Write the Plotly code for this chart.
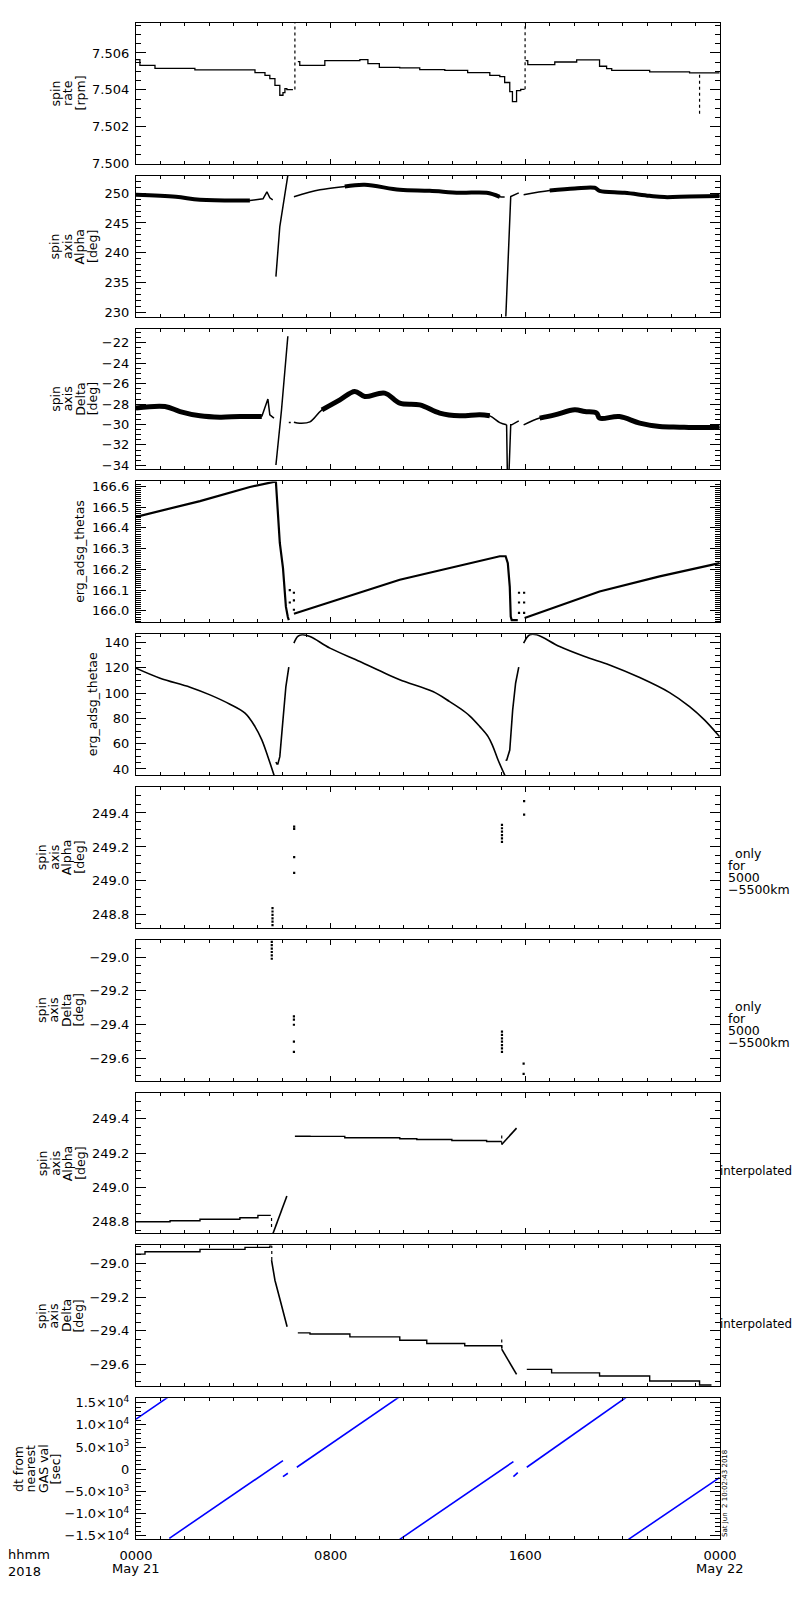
import plotly.graph_objects as go
from plotly.subplots import make_subplots

FONT = "DejaVu Sans"

# time axis: hours after 2018-05-21 00:00

# --- spin rate [rpm]
rate_t_a = [0, 0.16, 0.78, 2.42, 4.89, 5.30, 5.50, 5.71, 5.91, 6.04, 6.12, 6.20, 6.45]
rate_v_a = [7.50564, 7.50533, 7.50517, 7.50508, 7.50494, 7.50479, 7.50461, 7.50425,
            7.50371, 7.50385, 7.50407, 7.50402, 7.50402]
rate_t_b = [6.65, 6.73, 7.76, 9.20, 9.53, 10.0, 10.84, 11.66, 12.69, 13.63, 14.54, 14.95,
            15.15, 15.36, 15.47, 15.64, 15.81, 15.97]
rate_v_b = [7.50553, 7.50533, 7.50558, 7.50564, 7.50542, 7.50522, 7.50519, 7.50510,
            7.50506, 7.50494, 7.50479, 7.50472, 7.50440, 7.50391, 7.50337, 7.50396,
            7.50403, 7.50403]
rate_t_c = [16.01, 16.10, 17.21, 18.11, 19.05, 19.34, 19.55, 21.11, 22.75, 23.98]
rate_v_c = [7.50558, 7.50537, 7.50551, 7.50562, 7.50528, 7.50515, 7.50506, 7.50497,
            7.50492, 7.50492]
rate_spike_t = [6.53, 15.99, 23.16]
rate_spike_lo = [7.50402, 7.50403, 7.50271]
rate_spike_hi = [7.50780, 7.50780, 7.50490]

# --- spin axis Alpha [deg]
alp_t_a = [0, 1.64, 2.63, 4.68]
alp_v_a = [249.71, 249.38, 248.88, 248.76]
alp_t_peak = [4.68, 5.22, 5.38, 5.50, 5.62]
alp_v_peak = [248.76, 249.04, 250.22, 249.21, 248.88]
alp_t_jump = [5.75, 5.91, 6.26]
alp_v_jump = [236.0, 244.4, 253.5]
alp_t_b = [6.49, 7.56, 8.58, 9.40, 10.84, 12.07, 13.30, 14.41, 14.95, 15.15]
alp_v_b = [249.38, 250.55, 251.10, 251.39, 250.55, 250.38, 250.05, 250.05, 249.38, 249.33]
alp_t_drop = [15.19, 15.33, 15.40, 15.73]
alp_v_drop = [228.5, 243.3, 249.43, 250.05]
alp_t_c = [15.93, 17.00, 18.03, 18.85, 19.05, 20.08, 21.10, 21.72, 22.75, 23.98]
alp_v_c = [249.71, 250.44, 250.77, 250.89, 250.39, 250.05, 249.55, 249.33, 249.43, 249.50]

# --- spin axis Delta [deg]
dec_t_a = [0, 1.19, 1.81, 2.63, 3.45, 4.27, 5.17]
dec_v_a = [-28.39, -28.23, -28.73, -29.15, -29.28, -29.22, -29.22]
dec_t_peak = [5.17, 5.42, 5.50, 5.67]
dec_v_peak = [-29.22, -27.51, -29.05, -29.37]
dec_t_jump = [5.75, 5.98, 6.24]
dec_v_jump = [-33.97, -28.56, -21.35]
dec_t_small = [6.28, 6.36]
dec_v_small = [-29.81, -29.81]
dec_t_b = [6.49, 6.73, 7.15, 7.64, 8.38, 8.99, 9.40, 10.22, 10.84, 11.66, 12.48, 13.30,
           14.13, 14.54, 14.95, 15.23]
dec_v_b = [-29.77, -29.87, -29.74, -28.56, -27.58, -26.76, -27.25, -26.92, -27.90, -28.07,
           -28.88, -29.15, -29.05, -29.15, -29.81, -30.03]
dec_t_drop = [15.23, 15.26, 15.33, 15.40, 15.44, 15.73]
dec_v_drop = [-30.03, -34.6, -34.6, -30.03, -30.03, -29.64]
dec_t_c = [15.93, 16.59, 17.21, 18.03, 18.44, 18.93, 19.05, 19.87, 20.70, 21.52, 22.34,
           23.16, 23.98]
dec_v_c = [-30.03, -29.37, -29.05, -28.56, -28.73, -28.88, -29.37, -29.22, -29.87, -30.20,
           -30.26, -30.30, -30.26]

# --- erg_adsg_thetas
ths_t_a = [0, 2.63, 4.68, 5.71, 5.75, 5.91, 6.04, 6.16, 6.24, 6.28]
ths_v_a = [166.453, 166.529, 166.597, 166.623, 166.620, 166.327, 166.207, 166.020,
           165.970, 165.955]
ths_t_b = [6.49, 10.84, 14.95, 15.19, 15.28, 15.36, 15.40, 15.44, 15.69]
ths_v_b = [165.986, 166.150, 166.263, 166.263, 166.230, 166.117, 165.972, 165.955, 165.955]
ths_t_c = [15.97, 19.05, 21.52, 23.98]
ths_v_c = [165.965, 166.093, 166.166, 166.230]
ths_dot_t = [6.32, 6.32, 6.49, 6.49, 6.49, 15.74, 15.74, 15.74, 15.95, 15.95, 15.95]
ths_dot_v = [166.100, 166.040, 166.087, 166.050, 166.005, 166.087, 166.040, 165.990,
             166.087, 166.040, 165.990]

# --- erg_adsg_thetae
the_t_a = [0, 0.99, 2.22, 3.04, 3.86, 4.48, 4.89, 5.17, 5.42, 5.69]
the_v_a = [119.7, 111.8, 104.7, 98.6, 91.2, 84.1, 73.5, 63.0, 49.7, 34.0]
the_t_r1 = [5.75, 5.79, 5.83, 5.91, 6.04, 6.16, 6.28]
the_v_r1 = [45.5, 44.0, 44.0, 49.7, 78.8, 105.2, 120.5]
the_t_b = [6.49, 6.65, 6.82, 7.15, 7.97, 9.20, 10.02, 10.84, 12.20, 12.89, 13.30, 13.71,
           14.13, 14.47, 14.67, 14.88, 15.18]
the_v_b = [139.5, 144.8, 146.1, 144.8, 135.6, 125.0, 117.6, 110.5, 101.2, 93.3, 88.1, 82.0,
           73.5, 65.6, 57.7, 47.1, 34.0]
the_t_r2 = [15.20, 15.23, 15.36, 15.48, 15.60, 15.73]
the_v_r2 = [47.5, 46.6, 55.0, 86.7, 107.8, 120.5]
the_t_c = [15.93, 16.18, 16.47, 17.41, 18.44, 19.46, 20.70, 21.93, 22.75, 23.36, 23.98]
the_v_c = [139.5, 146.1, 146.1, 136.8, 128.9, 122.3, 112.3, 100.4, 89.3, 78.8, 65.6]

# --- spin axis Alpha / Delta, only for 5000-5500 km
alp_o_t = [5.61, 5.61, 5.61, 5.61, 5.61, 5.61, 6.50, 6.50, 6.50, 6.50,
           15.04, 15.04, 15.04, 15.04, 15.04, 15.04, 15.95, 15.95]
alp_o_v = [248.84, 248.82, 248.80, 248.78, 248.76, 248.74, 249.32, 249.306, 249.14, 249.047,
           249.33, 249.31, 249.29, 249.27, 249.25, 249.23, 249.47, 249.39]
dec_o_t = [5.58, 5.58, 5.58, 5.58, 5.58, 5.58, 6.49, 6.49, 6.49, 6.49, 6.49,
           15.04, 15.04, 15.04, 15.04, 15.04, 15.04, 15.04, 15.93, 15.93]
dec_o_v = [-28.91, -28.93, -28.95, -28.97, -28.99, -29.01, -29.35, -29.37, -29.40, -29.50,
           -29.56, -29.44, -29.46, -29.48, -29.50, -29.52, -29.54, -29.56, -29.63, -29.69]

# --- spin axis Alpha, interpolated
alp_i_t_a = [0, 1.40, 2.63, 4.27, 5.01, 5.54]
alp_i_v_a = [248.800, 248.806, 248.814, 248.823, 248.837, 248.837]
alp_i_t_r1 = [5.60, 6.20]
alp_i_v_r1 = [248.72, 248.95]
alp_i_t_b = [6.53, 7.15, 8.58, 10.84, 11.54, 12.98, 14.41, 15.03]
alp_i_v_b = [249.298, 249.297, 249.289, 249.283, 249.279, 249.273, 249.267, 249.267]
alp_i_t_r2 = [15.03, 15.64]
alp_i_v_r2 = [249.250, 249.345]
alp_i_gap_t = [5.57, 15.03]
alp_i_gap_lo = [248.770, 249.250]
alp_i_gap_hi = [248.837, 249.310]

# --- spin axis Delta, interpolated
dec_i_t_a = [0, 0.37, 2.63, 4.48, 5.50, 5.57]
dec_i_v_a = [-28.945, -28.931, -28.917, -28.905, -28.895, -28.895]
dec_i_t_r1 = [5.57, 5.71, 5.91, 6.21]
dec_i_v_r1 = [-28.98, -29.10, -29.21, -29.377]
dec_i_t_b = [6.65, 7.15, 8.79, 10.84, 11.95, 13.51, 15.03]
dec_i_v_b = [-29.413, -29.420, -29.437, -29.457, -29.476, -29.490, -29.506]
dec_i_t_r2 = [15.03, 15.64]
dec_i_v_r2 = [-29.51, -29.66]
dec_i_t_c = [16.06, 17.08, 19.05, 21.11, 23.16, 23.65]
dec_i_v_c = [-29.630, -29.651, -29.669, -29.699, -29.723, -29.723]
dec_i_gap_t = [5.58, 15.03]
dec_i_gap_lo = [-28.98, -29.506]
dec_i_gap_hi = [-28.895, -29.440]

# --- dt from nearest GAS val [sec]
dt_segments_t = [[0, 1.33], [1.37, 6.04], [6.04, 6.24], [6.61, 10.82],
                 [10.84, 15.51], [15.51, 15.69], [16.06, 20.17], [20.24, 23.98]]
dt_segments_v = [[11280, 16300], [-15570, 1940], [-1670, -900], [450, 16300],
                 [-15800, 1715], [-1670, -765], [450, 16300], [-15800, -1890]]

y_ranges = [[7.5, 7.50762], [229.3, 252.9], [-34.4, -20.6], [165.945, 166.624],
            [35.2, 146.6], [248.724, 249.553], [-29.73, -28.898], [248.732, 249.552],
            [-29.73, -28.893], [-15725, 16015]]
y_dtick = [0.002, 5, 2, 0.1, 20, 0.2, 0.2, 0.2, 0.2, 5000]
y_minor = [0.0005, 1, 0.5, 0.01, 5, 0.05, 0.05, 0.05, 0.05, 1000]
y_format = [".3f", "d", "d", ".1f", "d", ".1f", ".1f", ".1f", ".1f", "d"]
dt_tickvals = [-15000, -10000, -5000, 0, 5000, 10000, 15000]
dt_ticktext = ["\u22121.5\u00d710<sup>4</sup>", "\u22121.0\u00d710<sup>4</sup>",
               "\u22125.0\u00d710<sup>3</sup>", "0", "5.0\u00d710<sup>3</sup>",
               "1.0\u00d710<sup>4</sup>", "1.5\u00d710<sup>4</sup>"]

x_tickvals = [0, 8, 16, 24]
x_ticktext = ["0000", "0800", "1600", "0000"]

y_labels = [["spin", "rate", "[rpm]"], ["spin", "axis", "Alpha", "[deg]"],
            ["spin", "axis", "Delta", "[deg]"], ["erg_adsg_thetas"], ["erg_adsg_thetae"],
            ["spin", "axis", "Alpha", "[deg]"], ["spin", "axis", "Delta", "[deg]"],
            ["spin", "axis", "Alpha", "[deg]"], ["spin", "axis", "Delta", "[deg]"],
            ["dt from", "nearest", "GAS val", "[sec]"]]
y_label_x = [67.5, 73, 73.5, 80, 92.5, 60.5, 59.5, 62, 60, 37]

fig = make_subplots(rows=10, cols=1, vertical_spacing=0.0079)


def line(row, t, v, width=1.3, color="black", dash="solid", shape="linear"):
    fig.add_trace(go.Scatter(x=t, y=v, mode="lines",
                             line=dict(color=color, width=width, dash=dash, shape=shape),
                             showlegend=False, hoverinfo="skip"), row=row, col=1)


def dots(row, t, v, size=2.2):
    fig.add_trace(go.Scatter(x=t, y=v, mode="markers",
                             marker=dict(color="black", size=size, symbol="square"),
                             showlegend=False, hoverinfo="skip"), row=row, col=1)


def vlines(row, ts, lo, hi):
    for t, a, b in zip(ts, lo, hi):
        line(row, [t, t], [a, b], width=1.2, dash="dot")


# row 1
for t, v in [(rate_t_a, rate_v_a), (rate_t_b, rate_v_b), (rate_t_c, rate_v_c)]:
    line(1, t, v, width=1.3, shape="hv")
vlines(1, rate_spike_t, rate_spike_lo, rate_spike_hi)

# row 2
for t, v in [(alp_t_a, alp_v_a), (alp_t_b[2:9], alp_v_b[2:9]), (alp_t_c[1:], alp_v_c[1:])]:
    line(2, t, v, width=4, shape="spline")
for t, v in [(alp_t_a, alp_v_a), (alp_t_b, alp_v_b), (alp_t_c, alp_v_c)]:
    line(2, t, v, width=1.5, shape="spline")
for t, v in [(alp_t_peak, alp_v_peak), (alp_t_jump, alp_v_jump), (alp_t_drop, alp_v_drop)]:
    line(2, t, v, width=1.5)

# row 3
for t, v in [(dec_t_a, dec_v_a), (dec_t_b[3:14], dec_v_b[3:14]), (dec_t_c[1:], dec_v_c[1:])]:
    line(3, t, v, width=5, shape="spline")
for t, v in [(dec_t_a, dec_v_a), (dec_t_b, dec_v_b), (dec_t_c, dec_v_c)]:
    line(3, t, v, width=1.5, shape="spline")
for t, v in [(dec_t_peak, dec_v_peak), (dec_t_jump, dec_v_jump), (dec_t_small, dec_v_small),
             (dec_t_drop, dec_v_drop)]:
    line(3, t, v, width=1.5)

# row 4
for t, v in [(ths_t_a, ths_v_a), (ths_t_b, ths_v_b), (ths_t_c, ths_v_c)]:
    line(4, t, v, width=2.2)
dots(4, ths_dot_t, ths_dot_v)

# row 5
for t, v in [(the_t_a, the_v_a), (the_t_b, the_v_b), (the_t_c, the_v_c)]:
    line(5, t, v, width=1.6, shape="spline")
for t, v in [(the_t_r1, the_v_r1), (the_t_r2, the_v_r2)]:
    line(5, t, v, width=1.6)

# rows 6, 7
dots(6, alp_o_t, alp_o_v)
dots(7, dec_o_t, dec_o_v)

# row 8
line(8, alp_i_t_a, alp_i_v_a, width=1.4, shape="hv")
line(8, alp_i_t_b, alp_i_v_b, width=1.4, shape="hv")
line(8, alp_i_t_r1, alp_i_v_r1, width=1.6)
line(8, alp_i_t_r2, alp_i_v_r2, width=1.6)
vlines(8, alp_i_gap_t, alp_i_gap_lo, alp_i_gap_hi)

# row 9
line(9, dec_i_t_a, dec_i_v_a, width=1.4, shape="hv")
line(9, dec_i_t_b, dec_i_v_b, width=1.4, shape="hv")
line(9, dec_i_t_c, dec_i_v_c, width=1.4, shape="hv")
line(9, dec_i_t_r1, dec_i_v_r1, width=1.6)
line(9, dec_i_t_r2, dec_i_v_r2, width=1.6)
vlines(9, dec_i_gap_t, dec_i_gap_lo, dec_i_gap_hi)

# row 10
for t, v in zip(dt_segments_t, dt_segments_v):
    line(10, t, v, width=1.6, color="#0000ff")

axis_common = dict(showline=True, linecolor="black", linewidth=1.2, mirror="ticks",
                   ticks="inside", tickcolor="black", showgrid=False, zeroline=False,
                   tickfont=dict(family=FONT, size=13, color="black"))

for i in range(10):
    row = i + 1
    fig.update_xaxes(axis_common, row=row, col=1, range=[0, 24], tickmode="array",
                     tickvals=x_tickvals, ticktext=x_ticktext, ticklen=5, tickwidth=1,
                     showticklabels=(row == 10), ticklabelstandoff=4,
                     minor=dict(dtick=1, tick0=0, ticks="inside", ticklen=3,
                                tickcolor="black", tickwidth=1))
    ykw = dict(range=y_ranges[i], ticklen=10, tickwidth=1, ticklabelstandoff=3,
               minor=dict(dtick=y_minor[i], tick0=0, ticks="inside", ticklen=5,
                          tickcolor="black", tickwidth=1))
    if row == 10:
        ykw.update(tickmode="array", tickvals=dt_tickvals, ticktext=dt_ticktext)
    else:
        ykw.update(dtick=y_dtick[i], tick0=0, tickformat=y_format[i])
    fig.update_yaxes(axis_common, row=row, col=1, **ykw)

# labels (positions in page pixels; page body has an 8px margin)
PX0, PW, H = 136.0, 584.5, 1516.0


def px2paper(px):
    return (px - PX0) / PW


for i, lines in enumerate(y_labels):
    yref = "y domain" if i == 0 else f"y{i + 1} domain"
    n = len(lines)
    for k, s in enumerate(lines):
        cx = y_label_x[i] + (k - (n - 1) / 2) * 12.5
        fig.add_annotation(text=s, x=px2paper(cx), xref="paper", y=0.5, yref=yref,
                           textangle=-90, showarrow=False, xanchor="center",
                           yanchor="middle", font=dict(family=FONT, size=12.5, color="black"))

only_lines = ["only", "for", "5000", "\u22125500km"]
only_shift = [4, -8, -20, -32]
only_x = [734, 727, 727, 727]
for row in (6, 7):
    for s, dy, xx in zip(only_lines, only_shift, only_x):
        fig.add_annotation(text=s, x=px2paper(xx), xref="paper", y=0.5,
                           yref=f"y{row} domain", yshift=dy, showarrow=False,
                           xanchor="left", yanchor="middle",
                           font=dict(family=FONT, size=12.5, color="black"))
for row in (8, 9):
    fig.add_annotation(text="interpolated", x=px2paper(719), xref="paper", y=0.5,
                       yref=f"y{row} domain", yshift=-8, showarrow=False,
                       xanchor="left", yanchor="middle", borderpad=0,
                       font=dict(family=FONT, size=11.8, color="black"))

fig.add_annotation(text="Sat Jun\u00a0 2 10:02:43 2018", x=px2paper(725), xref="paper",
                   y=0, yref="paper", textangle=-90, showarrow=False, xanchor="center",
                   yanchor="bottom", font=dict(family=FONT, size=7, color="black"))

fig.add_annotation(text="hhmm<br>2018", x=px2paper(6), xref="paper", y=(1539 - 1545) / H,
                   yref="paper", showarrow=False, xanchor="left", yanchor="top",
                   align="left", font=dict(family=FONT, size=13, color="black"))
for txt, xx in [("May 21", 136), ("May 22", 720)]:
    fig.add_annotation(text=txt, x=px2paper(xx), xref="paper", y=(1539 - 1559) / H,
                       yref="paper", showarrow=False, xanchor="center", yanchor="top",
                       font=dict(family=FONT, size=13, color="black"))

# page body adds 8px around the figure; keep the page inside 800x1600 (no scrollbars)
fig.update_layout(width=792, height=1578, margin=dict(l=128, r=79.5, t=15, b=47),
                  paper_bgcolor="white", plot_bgcolor="white",
                  font=dict(family=FONT, size=13, color="black"))

fig.write_html("out.html")
